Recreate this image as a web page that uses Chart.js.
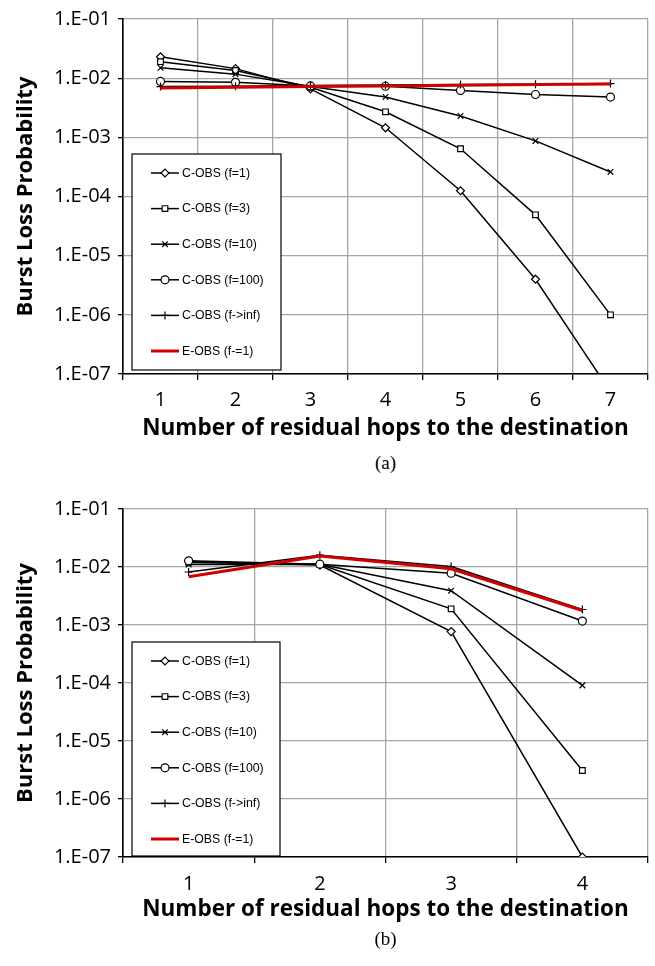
<!DOCTYPE html>
<html>
<head>
<meta charset="utf-8">
<script src="https://cdn.jsdelivr.net/npm/chart.js@4"></script>
<style>
  html, body { margin: 0; padding: 0; background: #fff; }
  body { width: 655px; height: 966px; position: relative; overflow: hidden; }
  canvas { position: absolute; left: 0; }
  #chartA { top: 0; }
  #chartB { top: 490px; }
  .cap { position: absolute; width: 525px; left: 123px; text-align: center;
         font-family: "Liberation Serif", "DejaVu Serif", serif; font-size: 19px; color: #000; }
</style>
</head>
<body>
<canvas id="chartA" width="655" height="450"></canvas>
<canvas id="chartB" width="655" height="441"></canvas>
<div class="cap" style="top:452px">(a)</div>
<div class="cap" style="top:928px">(b)</div>
<script>
// ---- data: panel (a), 1..7 residual hops ----
const hopsA = ['1', '2', '3', '4', '5', '6', '7'];
const cobsF1A   = [0.023, 0.0145, 0.0066, 0.00145, 0.000125, 0.0000040, 0.00000005];
const cobsF3A   = [0.019, 0.0135, 0.0070, 0.0027, 0.00064, 0.000049, 0.0000010];
const cobsF10A  = [0.015, 0.0117, 0.0072, 0.0048, 0.0023, 0.00087, 0.00026];
const cobsF100A = [0.0088, 0.0085, 0.0074, 0.0073, 0.0062, 0.0053, 0.0048];
const cobsInfA  = [0.0072, 0.0073, 0.0075, 0.0077, 0.0078, 0.0079, 0.0081];
const eobsA     = [0.0068, 0.0070, 0.0072, 0.0074, 0.0076, 0.0078, 0.0080];

// ---- data: panel (b), 1..4 residual hops ----
const hopsB = ['1', '2', '3', '4'];
const cobsF1B   = [0.0125, 0.0108, 0.00077, 0.0000001];
const cobsF3B   = [0.0120, 0.0110, 0.0019, 0.0000031];
const cobsF10B  = [0.0110, 0.0112, 0.0039, 0.000091];
const cobsF100B = [0.0128, 0.0112, 0.0078, 0.00117];
const cobsInfB  = [0.0082, 0.0160, 0.0102, 0.00185];
const eobsB     = [0.0068, 0.0155, 0.0093, 0.00178];

// ---- axis ticks ----
const yTickValues = [1e-7, 1e-6, 1e-5, 1e-4, 1e-3, 1e-2, 1e-1];
const yTickLabels = ['1.E-07', '1.E-06', '1.E-05', '1.E-04', '1.E-03', '1.E-02', '1.E-01'];
const seriesNames = ['C-OBS (f=1)', 'C-OBS (f=3)', 'C-OBS (f=10)', 'C-OBS (f=100)', 'C-OBS (f->inf)', 'E-OBS (f-=1)'];

const SANS = '"Open Sans", "DejaVu Sans", sans-serif';
const TICK_FONT = { family: SANS, size: 20 };
const TITLE_FONT = { family: SANS, size: 22.5, weight: 'bold' };

function blackSeries(label, data, style, order) {
  return {
    label, data, order,
    borderColor: '#000', borderWidth: 1.5,
    pointStyle: style, pointRadius: 4,
    pointBackgroundColor: '#fff', pointBorderColor: '#000', pointBorderWidth: 1.2,
    tension: 0
  };
}

function buildDatasets(s) {
  return [
    blackSeries(seriesNames[0], s[0], 'rectRot', 6),
    blackSeries(seriesNames[1], s[1], 'rect', 5),
    blackSeries(seriesNames[2], s[2], 'crossRot', 4),
    blackSeries(seriesNames[3], s[3], 'circle', 3),
    blackSeries(seriesNames[4], s[4], 'cross', 2),
    { label: seriesNames[5], data: s[5], order: 1, borderColor: '#d00000', borderWidth: 3,
      pointRadius: 0, tension: 0 }
  ];
}

// boxed legend drawn inside the plot area, lower-left corner
const insetLegend = {
  id: 'insetLegend',
  afterDatasetsDraw(chart, args, opts) {
    const ctx = chart.ctx, area = chart.chartArea;
    const x0 = area.left + opts.x, y0 = area.top + opts.y;
    ctx.save();
    ctx.fillStyle = '#fff';
    ctx.fillRect(x0, y0, opts.w, opts.h);
    ctx.strokeStyle = '#000';
    ctx.lineWidth = 1.2;
    ctx.strokeRect(x0, y0, opts.w, opts.h);
    ctx.font = '12.3px "Liberation Sans", Arial, sans-serif';
    ctx.textBaseline = 'middle';
    chart.data.datasets.forEach((ds, i) => {
      const yy = y0 + opts.first + i * opts.step;
      ctx.strokeStyle = ds.borderColor;
      ctx.lineWidth = ds.borderWidth;
      ctx.beginPath();
      ctx.moveTo(x0 + 19, yy);
      ctx.lineTo(x0 + 47, yy);
      ctx.stroke();
      if (ds.pointRadius > 0) {
        ctx.fillStyle = '#fff';
        ctx.strokeStyle = '#000';
        ctx.lineWidth = 1.2;
        Chart.helpers.drawPoint(ctx, { pointStyle: ds.pointStyle, radius: 4, rotation: 0, borderWidth: 1.2 }, x0 + 33, yy);
      }
      ctx.fillStyle = '#000';
      ctx.fillText(ds.label, x0 + 50, yy + 0.5);
    });
    ctx.restore();
  }
};

function makeChart(id, labels, series, geom) {
  return new Chart(document.getElementById(id), {
    type: 'line',
    data: { labels, datasets: buildDatasets(series) },
    plugins: [insetLegend],
    options: {
      responsive: false,
      animation: false,
      layout: { padding: { top: geom.top, right: 7, left: 0, bottom: 0 } },
      plugins: {
        legend: { display: false },
        tooltip: { enabled: false },
        insetLegend: geom.legend
      },
      scales: {
        x: {
          type: 'category',
          offset: true,
          grid: { offset: true, color: '#a6a6a6', lineWidth: 1.3, tickColor: '#000', tickLength: 6 },
          border: { color: '#000', width: 1.6 },
          ticks: { color: '#000', font: TICK_FONT, padding: geom.xTickPad, maxRotation: 0 },
          title: { display: true, text: 'Number of residual hops to the destination', color: '#000',
                   font: TITLE_FONT, padding: { top: 0, bottom: geom.xTitlePad } },
          afterFit(scale) { scale.height = geom.xHeight; }
        },
        y: {
          type: 'logarithmic',
          min: 1e-7, max: 1e-1,
          grid: { color: '#a6a6a6', lineWidth: 1.3, tickColor: '#000', tickLength: 5 },
          border: { color: '#000', width: 1.6 },
          ticks: {
            color: '#000', font: TICK_FONT, padding: 7,
            callback(value) {
              const i = yTickValues.findIndex(v => Math.abs(Math.log10(v) - Math.log10(value)) < 1e-6);
              return i >= 0 ? yTickLabels[i] : '';
            }
          },
          afterBuildTicks(scale) { scale.ticks = yTickValues.map(v => ({ value: v })); },
          title: { display: true, text: 'Burst Loss Probability', color: '#000',
                   font: { family: SANS, size: 22, weight: 'bold' }, padding: { top: 13, bottom: 0 } },
          afterFit(scale) { scale.width = 123; }
        }
      }
    }
  });
}

makeChart('chartA', hopsA, [cobsF1A, cobsF3A, cobsF10A, cobsF100A, cobsInfA, eobsA], {
  top: 15, xHeight: 76, xTickPad: 8, xTitlePad: 8,
  legend: { x: 9, y: 135, w: 149, h: 216, first: 19, step: 35.6 }
});
makeChart('chartB', hopsB, [cobsF1B, cobsF3B, cobsF10B, cobsF100B, cobsInfB, eobsB], {
  top: 14, xHeight: 74, xTickPad: 9, xTitlePad: 8,
  legend: { x: 9, y: 133, w: 148, h: 214, first: 19, step: 35.6 }
});
</script>
</body>
</html>
